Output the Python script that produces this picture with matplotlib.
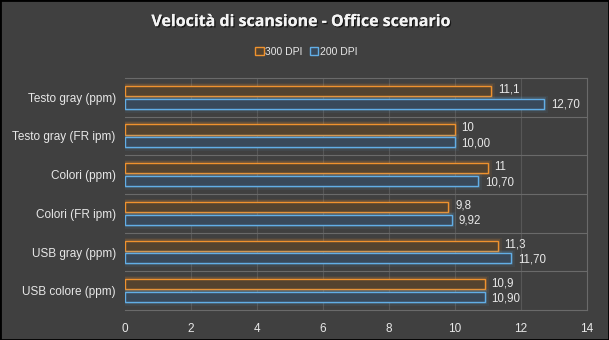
import matplotlib
matplotlib.use("Agg")
import matplotlib.pyplot as plt
import matplotlib.patheffects as pe
from matplotlib.patches import Rectangle
import numpy as np

categories = ["Testo gray (ppm)", "Testo gray (FR ipm)", "Colori (ppm)",
              "Colori (FR ipm)", "USB gray (ppm)", "USB colore (ppm)"]
dpi300 = [11.1, 10, 11, 9.8, 11.3, 10.9]
dpi200 = [12.70, 10.00, 10.70, 9.92, 11.70, 10.90]
labels300 = ["11,1", "10", "11", "9,8", "11,3", "10,9"]
labels200 = ["12,70", "10,00", "10,70", "9,92", "11,70", "10,90"]
series_names = ["300 DPI", "200 DPI"]
xticks = [0, 2, 4, 6, 8, 10, 12, 14]

bg = "#404040"
orange = "#f0922e"
blue = "#62aee6"
fill_o = "#54432f"
fill_b = "#39495a"
txt = "#e8e8e8"

fig = plt.figure(figsize=(6.09, 3.40), dpi=100, facecolor=bg)
ax = fig.add_axes([0.205, 0.088, 0.759, 0.683])
ax.set_facecolor(bg)

y = np.arange(len(categories))
h = 0.26
off = 0.165

def glow(color):
    return [pe.Stroke(linewidth=5, foreground=color, alpha=0.07),
            pe.Stroke(linewidth=3, foreground=color, alpha=0.15),
            pe.Normal()]

b1 = ax.barh(y - off, dpi300, height=h, facecolor=fill_o, edgecolor=orange, linewidth=1.0, zorder=3)
b2 = ax.barh(y + off, dpi200, height=h, facecolor=fill_b, edgecolor=blue, linewidth=1.0, zorder=3)
for b in b1:
    b.set_path_effects(glow(orange))
for b in b2:
    b.set_path_effects(glow(blue))

for yi, v, lab in zip(y, dpi300, labels300):
    ax.text(v + 0.2, yi - off - 0.03, lab, color=txt, fontsize=8.3, va="center", ha="left",
            family="Liberation Sans", zorder=4)
for yi, v, lab in zip(y, dpi200, labels200):
    ax.text(v + 0.2, yi + off + 0.03, lab, color=txt, fontsize=8.3, va="center", ha="left",
            family="Liberation Sans", zorder=4)

ax.set_xlim(0, 14)
ax.set_ylim(len(categories) - 0.5, -0.5)
ax.set_xticks(xticks)
ax.set_xticklabels([str(t) for t in xticks], color=txt, fontsize=8.5, family="Liberation Sans")
ax.set_yticks(y)
ax.set_yticklabels(categories, color=txt, fontsize=8.5, family="Liberation Sans")
ax.tick_params(length=0, pad=6.5)
ax.tick_params(axis="x", pad=9)

for xv in xticks[1:-1]:
    ax.axvline(xv, color="#575757", linewidth=0.8, zorder=1)
for yb in np.arange(0.5, len(categories) - 0.5, 1):
    ax.axhline(yb, color="#6a6a6a", linewidth=0.8, zorder=1)

for s in ["top", "right", "bottom"]:
    ax.spines[s].set_color("#6a6a6a")
    ax.spines[s].set_linewidth(0.8)
ax.spines["left"].set_visible(False)

t = fig.text(0.495, 0.935, "Velocità di scansione - Office scenario", ha="center", va="center",
             fontsize=11.5, fontweight="bold", color="#f4f4f4", family="Open Sans")
t.set_path_effects([pe.withSimplePatchShadow(offset=(1, -1), shadow_rgbFace="black", alpha=0.6), pe.Normal()])

leg = ax.legend([Rectangle((0, 0), 1, 1, facecolor=fill_o, edgecolor=orange),
                 Rectangle((0, 0), 1, 1, facecolor=fill_b, edgecolor=blue)],
                series_names, loc="center", bbox_to_anchor=(0.503, 0.847), bbox_transform=fig.transFigure,
                ncol=2, frameon=False, handlelength=0.8, handleheight=0.8,
                handletextpad=0.15, columnspacing=0.7, prop={"family": "Liberation Sans", "size": 7.5})
for tx in leg.get_texts():
    tx.set_color(txt)

fig.add_artist(Rectangle((0, 0), 1, 1, transform=fig.transFigure, fill=False,
                         edgecolor="black", linewidth=2))

fig.savefig("out.png", dpi=100, facecolor=bg)
